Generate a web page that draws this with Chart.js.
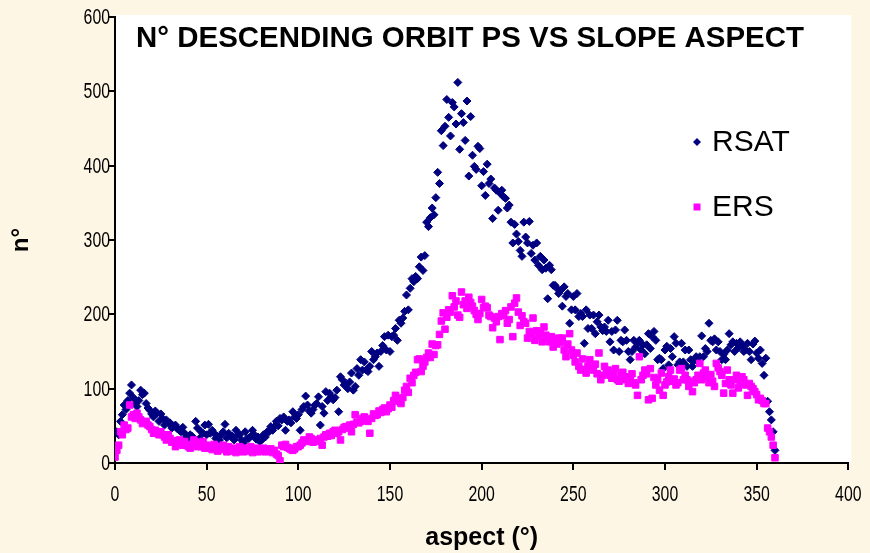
<!DOCTYPE html>
<html lang="en">
<head>
<meta charset="UTF-8">
<title>N° descending orbit PS vs slope aspect</title>
<script src="https://cdn.jsdelivr.net/npm/chart.js@4"></script>
<style>
  html, body { margin: 0; padding: 0; background: #fef6e4; }
  .wrap { position: relative; width: 870px; height: 553px; }
</style>
</head>
<body>
<div class="wrap"><canvas id="psChart"></canvas></div>

<script>
// aspect in degrees, one value per degree from 0 to 360
const aspectStart = 0;

const rsatCounts = [
  15, 42, 38, 56, 65, 78, 72, 84, 94, 105,
  88, 80, 76, 84, 98, 92, 94, 80, 74, 71,
  66, 62, 70, 67, 56, 66, 60, 51, 58, 54,
  54, 47, 50, 51, 46, 44, 42, 48, 40, 35,
  31, 38, 36, 33, 56, 47, 33, 42, 40, 51,
  38, 52, 40, 44, 40, 33, 36, 31, 38, 42,
  52, 34, 40, 36, 36, 31, 44, 38, 38, 31,
  27, 42, 33, 33, 36, 44, 38, 32, 35, 29,
  31, 38, 35, 42, 42, 49, 44, 49, 56, 50,
  60, 58, 62, 44, 56, 58, 54, 69, 62, 60,
  65, 44, 72, 76, 90, 78, 70, 67, 72, 78,
  80, 89, 51, 76, 67, 96, 84, 94, 89, 85,
  88, 98, 69, 116, 112, 105, 107, 100, 109, 121,
  98, 103, 127, 118, 139, 125, 136, 125, 123, 130,
  150, 139, 143, 148, 130, 150, 158, 170, 152, 172,
  150, 170, 172, 181, 165, 192, 188, 195, 204, 226,
  206, 235, 248, 244, 251, 248, 264, 277, 259, 279,
  324, 318, 330, 343, 334, 357, 391, 376, 447, 427,
  453, 489, 465, 440, 485, 479, 456, 512, 422, 470,
  458, 434, 487, 386, 466, 414, 399, 395, 426, 423,
  373, 392, 360, 402, 376, 382, 329, 370, 367, 340,
  363, 367, 358, 356, 343, 347, 324, 296, 321, 308,
  298, 286, 278, 324, 304, 296, 325, 282, 293, 273,
  296, 266, 278, 260, 273, 262, 221, 266, 260, 239,
  239, 235, 228, 232, 211, 237, 224, 228, 188, 206,
  224, 206, 228, 197, 201, 197, 161, 206, 181, 199,
  181, 199, 174, 190, 199, 183, 178, 183, 177, 192,
  163, 177, 152, 179, 192, 150, 165, 163, 179, 165,
  150, 139, 150, 165, 156, 161, 165, 152, 159, 147,
  159, 174, 154, 170, 177, 165, 139, 141, 139, 127,
  152, 157, 132, 154, 143, 170, 161, 132, 136, 161,
  136, 152, 130, 152, 139, 130, 139, 143, 136, 143,
  171, 143, 154, 150, 188, 165, 163, 167, 152, 163,
  150, 139, 146, 139, 152, 174, 159, 163, 150, 161,
  155, 163, 158, 150, 152, 161, 150, 139, 160, 164,
  148, 141, 152, 134, 118, 141, 83, 69, 58, 42,
  17
];

const ersCounts = [
  8, 17, 24, 42, 38, 51, 45, 47, 78, 62,
  65, 60, 67, 62, 58, 53, 55, 56, 51, 49,
  45, 40, 44, 40, 38, 42, 38, 35, 31, 38,
  33, 28, 29, 22, 30, 31, 27, 24, 29, 24,
  22, 20, 25, 31, 28, 22, 25, 22, 29, 20,
  24, 20, 22, 18, 25, 20, 16, 22, 18, 24,
  20, 15, 22, 18, 16, 20, 14, 18, 22, 16,
  15, 20, 16, 18, 22, 14, 17, 20, 15, 18,
  17, 20, 15, 18, 16, 19, 14, 17, 12, 10,
  3, 24, 22, 25, 21, 20, 18, 17, 19, 22,
  22, 24, 27, 31, 29, 30, 35, 33, 28, 31,
  30, 29, 33, 24, 35, 38, 36, 40, 37, 42,
  44, 40, 42, 31, 45, 48, 49, 47, 51, 42,
  52, 65, 55, 54, 56, 60, 62, 58, 56, 40,
  60, 66, 64, 65, 70, 68, 72, 74, 69, 73,
  78, 75, 84, 91, 86, 83, 80, 88, 98, 103,
  95, 114, 108, 118, 122, 139, 140, 123, 130, 136,
  142, 148, 142, 160, 146, 158, 159, 173, 191, 202,
  180, 196, 206, 203, 225, 210, 218, 199, 196, 230,
  213, 218, 208, 223, 216, 211, 205, 200, 193, 201,
  220, 209, 211, 209, 199, 197, 182, 195, 190, 197,
  166, 201, 198, 205, 188, 193, 210, 170, 215, 222,
  203, 185, 198, 190, 188, 168, 177, 174, 195, 165,
  178, 171, 175, 163, 183, 172, 168, 163, 170, 156,
  165, 160, 168, 162, 168, 152, 143, 160, 174, 152,
  145, 136, 148, 130, 125, 140, 126, 121, 130, 139,
  128, 125, 133, 120, 148, 112, 118, 130, 121, 125,
  118, 114, 120, 127, 112, 110, 118, 122, 112, 116,
  107, 113, 120, 108, 105, 91, 143, 112, 118, 125,
  120, 85, 127, 87, 115, 105, 112, 98, 121, 91,
  105, 109, 116, 125, 110, 113, 105, 108, 125, 127,
  112, 118, 112, 103, 110, 96, 108, 112, 118, 134,
  112, 121, 125, 116, 108, 119, 110, 103, 134, 128,
  123, 118, 94, 107, 125, 112, 105, 94, 112, 118,
  101, 109, 116, 112, 105, 91, 107, 103, 100, 96,
  92, 85, 87, 84, 80, 80, 47, 42, 35, 24,
  7
];

const xTicks = [0, 50, 100, 150, 200, 250, 300, 350, 400];
const yTicks = [0, 100, 200, 300, 400, 500, 600];
const seriesNames = ['RSAT', 'ERS'];
const seriesColors = ['#000080', '#ff00ff'];

const titleText = 'N° DESCENDING ORBIT PS VS SLOPE ASPECT';
const xTitle = 'aspect (°)';
const yTitle = 'n°';

const baseFont = "'Liberation Sans', Arial, sans-serif";

function toPoints(values) {
  return values.map((v, i) => ({ x: aspectStart + i, y: v }));
}

// squeezed text, like the narrow labels of the original
function narrowText(ctx, text, x, y, align, sx) {
  ctx.save();
  ctx.translate(x, y);
  ctx.scale(sx, 1);
  ctx.textAlign = align;
  ctx.fillText(text, 0, 0);
  ctx.restore();
}

// white plot area, tick labels, title and legend
const plotDecor = {
  id: 'plotDecor',
  beforeDraw(chart) {
    const { ctx, chartArea: a } = chart;
    ctx.save();
    ctx.fillStyle = '#ffffff';
    ctx.fillRect(a.left, a.top - 2, a.right - a.left + 3, a.bottom - a.top + 2);
    ctx.restore();
  },
  afterDraw(chart) {
    const { ctx } = chart;
    const xs = chart.scales.x, ys = chart.scales.y;
    ctx.save();
    ctx.fillStyle = '#000';

    // tick labels
    ctx.font = '22px ' + baseFont;
    ctx.textBaseline = 'middle';
    yTicks.forEach(v => narrowText(ctx, String(v), 110, ys.getPixelForValue(v) + 1, 'right', 0.72));
    xTicks.forEach(v => narrowText(ctx, String(v), xs.getPixelForValue(v), 495, 'center', 0.72));

    // title
    ctx.font = 'bold 30px ' + baseFont;
    ctx.textBaseline = 'alphabetic';
    const tw = ctx.measureText(titleText).width;
    narrowText(ctx, titleText, 470, 47, 'center', Math.min(1, 668 / tw));

    // legend
    const legendY = [142, 207];
    ctx.font = '30px ' + baseFont;
    ctx.textAlign = 'left';
    ctx.textBaseline = 'middle';
    seriesNames.forEach((name, i) => {
      const y = legendY[i];
      ctx.fillStyle = seriesColors[i];
      ctx.beginPath();
      if (i === 0) {
        ctx.moveTo(697, y - 4);
        ctx.lineTo(701, y);
        ctx.lineTo(697, y + 4);
        ctx.lineTo(693, y);
      } else {
        ctx.rect(693.5, y - 3.5, 7, 7);
      }
      ctx.closePath();
      ctx.fill();
      ctx.fillStyle = '#000';
      ctx.fillText(name, 712, y + 1);
    });
    ctx.restore();
  }
};

const ctx = document.getElementById('psChart').getContext('2d');

new Chart(ctx, {
  type: 'scatter',
  data: {
    datasets: [
      {
        label: seriesNames[0],
        data: toPoints(rsatCounts),
        pointStyle: 'rectRot',
        pointRadius: 4,
        borderWidth: 1,
        backgroundColor: seriesColors[0],
        borderColor: seriesColors[0],
        order: 1
      },
      {
        label: seriesNames[1],
        data: toPoints(ersCounts),
        pointStyle: 'rect',
        pointRadius: 4.6,
        borderWidth: 1,
        backgroundColor: seriesColors[1],
        borderColor: seriesColors[1],
        order: 0
      }
    ]
  },
  options: {
    responsive: true,
    maintainAspectRatio: false,
    animation: false,
    layout: { padding: { left: 0, right: 14, top: 17, bottom: 0 } },
    plugins: {
      legend: { display: false },
      tooltip: { enabled: false },
      title: { display: false }
    },
    scales: {
      x: {
        type: 'linear',
        min: xTicks[0],
        max: xTicks[xTicks.length - 1],
        afterBuildTicks: s => { s.ticks = xTicks.map(v => ({ value: v })); },
        afterFit: s => { s.height = 90; },
        ticks: { color: 'rgba(0,0,0,0)', padding: 10, maxRotation: 0, font: { size: 14 } },
        grid: { display: true, drawOnChartArea: false, drawTicks: true, tickLength: 7, color: '#000', lineWidth: 2 },
        border: { color: '#000', width: 2 },
        title: {
          display: true, text: xTitle, color: '#000',
          font: { family: baseFont, size: 25, weight: 'bold' },
          padding: { top: 14, bottom: 0 }
        }
      },
      y: {
        type: 'linear',
        min: yTicks[0],
        max: yTicks[yTicks.length - 1],
        afterBuildTicks: s => { s.ticks = yTicks.map(v => ({ value: v })); },
        afterFit: s => { s.width = 115; },
        ticks: { color: 'rgba(0,0,0,0)', padding: 4, font: { size: 14 } },
        grid: { display: true, drawOnChartArea: false, drawTicks: true, tickLength: 7, color: '#000', lineWidth: 2 },
        border: { color: '#000', width: 2 },
        title: {
          display: true, text: yTitle, color: '#000',
          font: { family: baseFont, size: 24, weight: 'bold' },
          padding: { top: 7, bottom: 0 }
        }
      }
    }
  },
  plugins: [plotDecor]
});
</script>
</body>
</html>
